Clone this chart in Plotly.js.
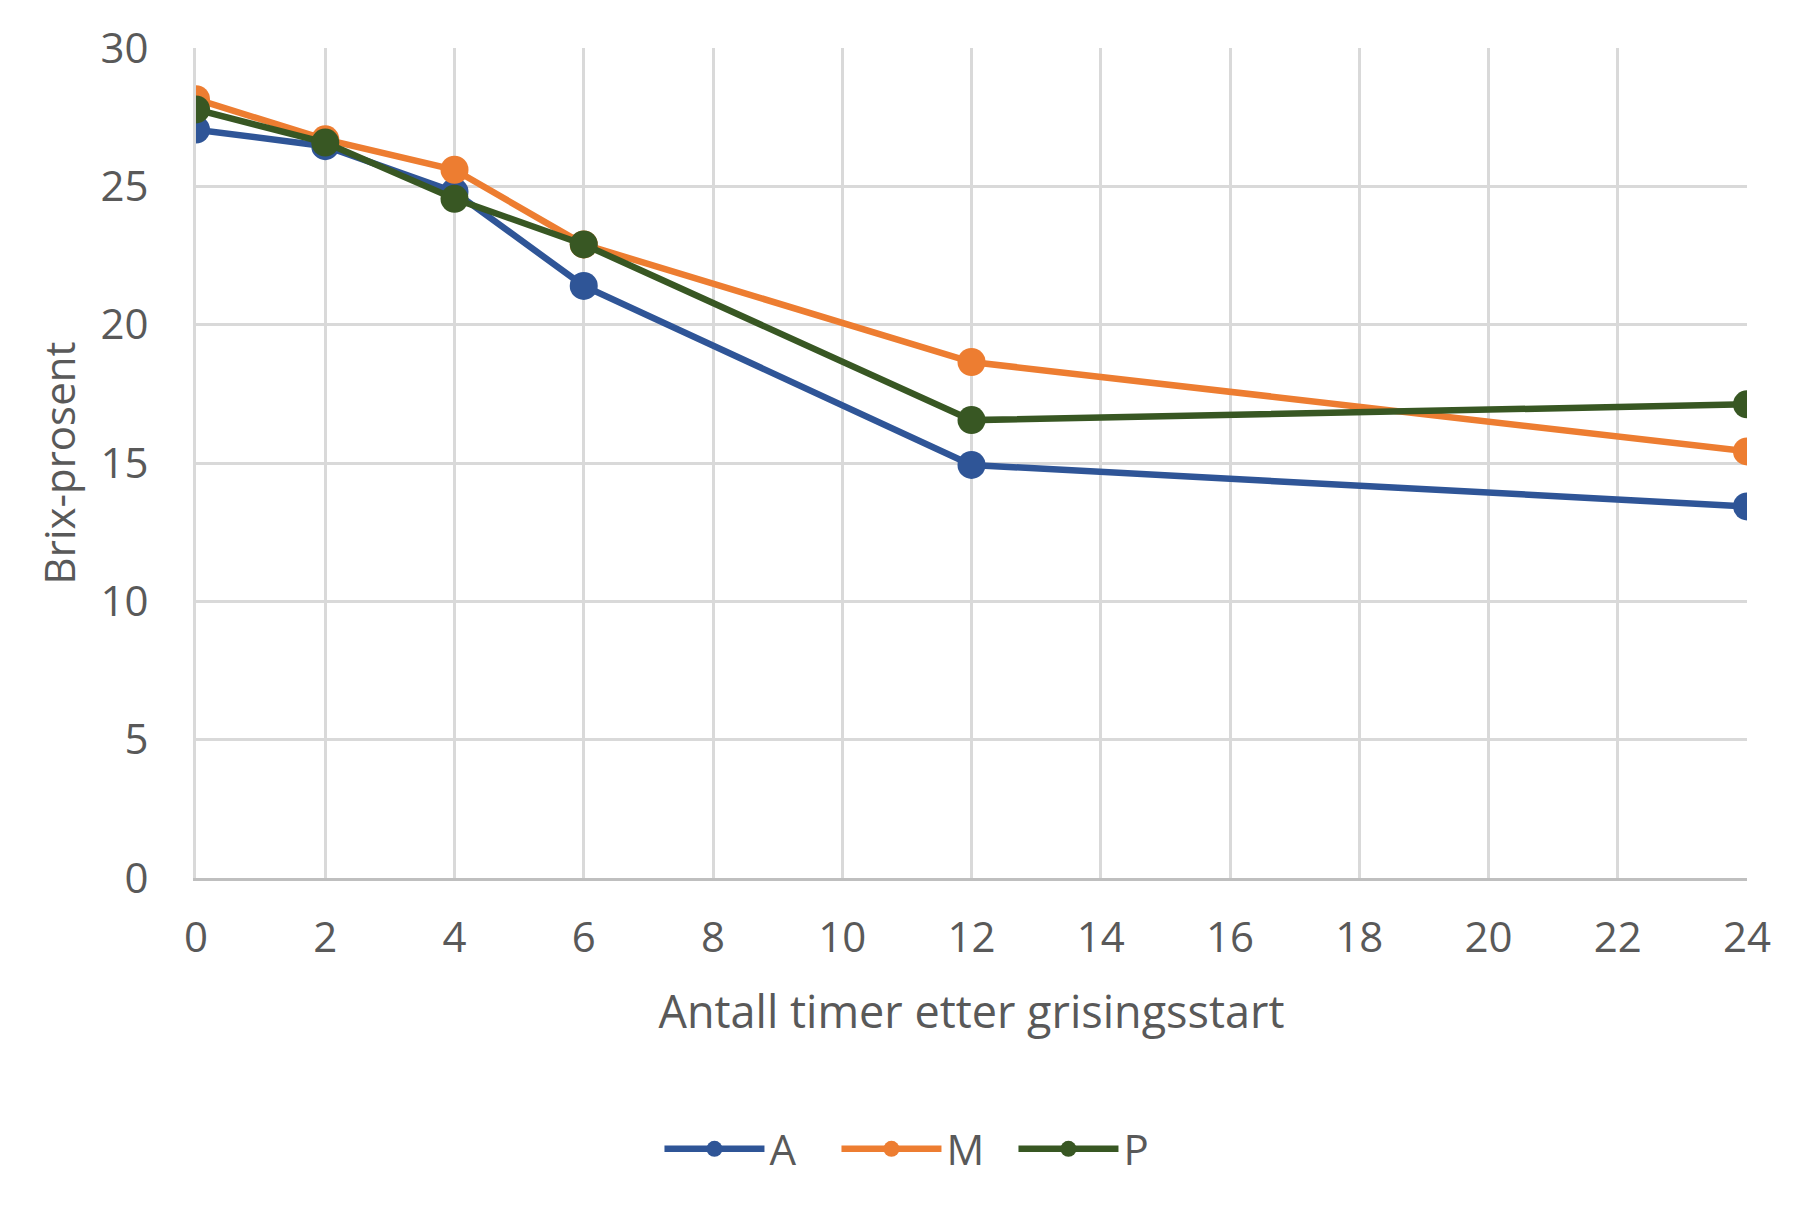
<!DOCTYPE html>
<html>
<head>
<meta charset="utf-8">
<script src="https://cdn.plot.ly/plotly-3.0.1.min.js"></script>
<style>html,body{margin:0;padding:0;background:#fff;}#chart{width:1800px;height:1205px;}</style>
</head>
<body>
<div id="chart"></div>
<script>
const hours = [0, 2, 4, 6, 12, 24];
const seriesA = [27.05, 26.45, 24.8, 21.4, 14.93, 13.43];
const seriesM = [28.15, 26.7, 25.6, 22.9, 18.65, 15.42];
const seriesP = [27.78, 26.58, 24.55, 22.9, 16.55, 17.12];
const seriesNames = ['A', 'M', 'P'];
const seriesColors = ['#2F5597', '#ED7D31', '#385723'];
const xTitle = 'Antall timer etter grisingsstart';
const yTitle = 'Brix-prosent';

const FONT = "'Open Sans', 'Noto Sans', sans-serif";
const TXT = '#595959';

const data = [seriesA, seriesM, seriesP].map((vals, i) => ({
  x: hours,
  y: vals,
  name: seriesNames[i],
  type: 'scatter',
  mode: 'lines+markers',
  line: {color: seriesColors[i], width: 6.5},
  marker: {color: seriesColors[i], size: 28}
}));

const layout = {
  width: 1800,
  height: 1205,
  paper_bgcolor: '#ffffff',
  plot_bgcolor: '#ffffff',
  margin: {l: 196, r: 53, t: 48, b: 327},
  font: {family: FONT, color: TXT, size: 42},
  showlegend: true,
  legend: {
    orientation: 'h',
    x: 0.47, xanchor: 'center',
    y: -0.3265, yanchor: 'middle',
    font: {family: FONT, size: 42, color: TXT},
    itemwidth: 100,
    entrywidth: 62,
    entrywidthmode: 'pixels',
    tracegroupgap: 0
  },
  xaxis: {
    range: [0, 24],
    tickmode: 'linear', tick0: 0, dtick: 2,
    showgrid: true, gridcolor: '#D9D9D9', gridwidth: 3,
    showline: true, linecolor: '#BFBFBF', linewidth: 3,
    zeroline: false,
    ticks: '',
    ticklabelstandoff: 21,
    tickfont: {family: FONT, size: 42, color: TXT},
    title: {text: xTitle, font: {family: FONT, size: 45, color: TXT}, standoff: 34},
    fixedrange: true
  },
  yaxis: {
    range: [0, 30],
    tickmode: 'linear', tick0: 0, dtick: 5,
    showgrid: true, gridcolor: '#D9D9D9', gridwidth: 3,
    showline: true, linecolor: '#D9D9D9', linewidth: 3,
    zeroline: false,
    ticks: '',
    ticklabelstandoff: 36,
    tickfont: {family: FONT, size: 42, color: TXT},
    title: {text: yTitle, font: {family: FONT, size: 42, color: TXT}, standoff: 12},
    fixedrange: true
  }
};

Plotly.newPlot('chart', data, layout, {displayModeBar: false, staticPlot: true});
</script>
</body>
</html>
